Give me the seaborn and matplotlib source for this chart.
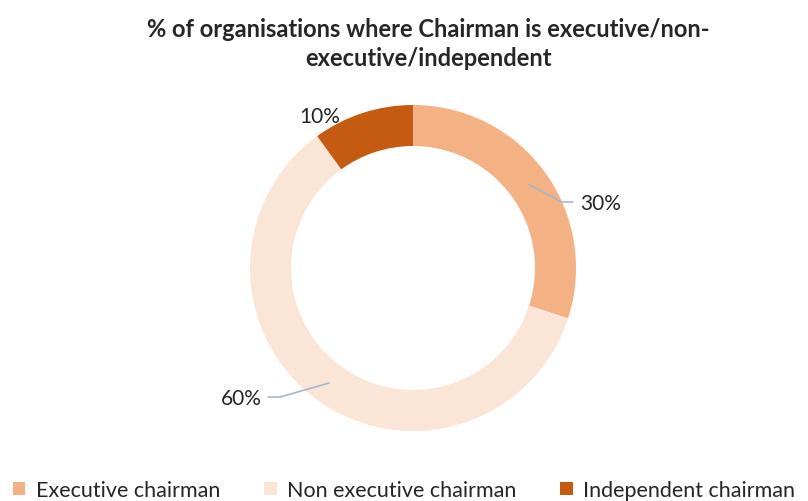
import matplotlib
matplotlib.use('Agg')
import matplotlib.pyplot as plt
import seaborn as sns

# Данные
categories = ['Executive chairman', 'Non executive chairman', 'Independent chairman']
shares = [30, 60, 10]
colors = ['#F4B183', '#FBE5D6', '#C55A11']
title = '% of organisations where Chairman is executive/non-\nexecutive/independent'

sns.set_theme(style='white')
plt.rcParams['font.family'] = ['Lato', 'DejaVu Sans']

fig = plt.figure(figsize=(8.08, 5.02), dpi=100)
ax = fig.add_axes([0, 0, 1, 1])
ax.set_xlim(0, 808)
ax.set_ylim(502, 0)
ax.axis('off')

cx, cy, r = 413, 269, 163
wedges, _ = ax.pie(shares, colors=colors, startangle=90, counterclock=False,
                   center=(cx, cy), radius=r, wedgeprops=dict(width=41, linewidth=0))
# ось y перевёрнута, поэтому переворачиваем кольцо обратно
for w in wedges:
    w.set_transform(matplotlib.transforms.Affine2D().translate(-cx, -cy).scale(1, -1).translate(cx, cy) + ax.transData)
ax.set_xlim(0, 808)
ax.set_ylim(502, 0)
ax.set_aspect('auto')

# Подписи
line_col = '#A6B6CC'
ax.plot([528, 562, 573], [185, 203, 203], color=line_col, lw=1.2)
ax.text(580, 204, f'{shares[0]}%', fontsize=15, va='center', ha='left')
ax.plot([329, 280, 268], [384, 398, 398], color=line_col, lw=1.2)
ax.text(262, 399, f'{shares[1]}%', fontsize=15, va='center', ha='right')
ax.text(320, 117, f'{shares[2]}%', fontsize=15, va='center', ha='center')

fig.text(0.53, 0.913, title, ha='center', va='center', fontsize=17,
         fontweight='bold', linespacing=1.3)

leg = fig.legend(wedges, categories, loc='center', bbox_to_anchor=(0.5, 0.022),
                 ncol=3, frameon=False, fontsize=15.5, handlelength=0.6,
                 handleheight=0.6, handletextpad=0.5, columnspacing=2.0)

fig.savefig('out.png', dpi=100)
